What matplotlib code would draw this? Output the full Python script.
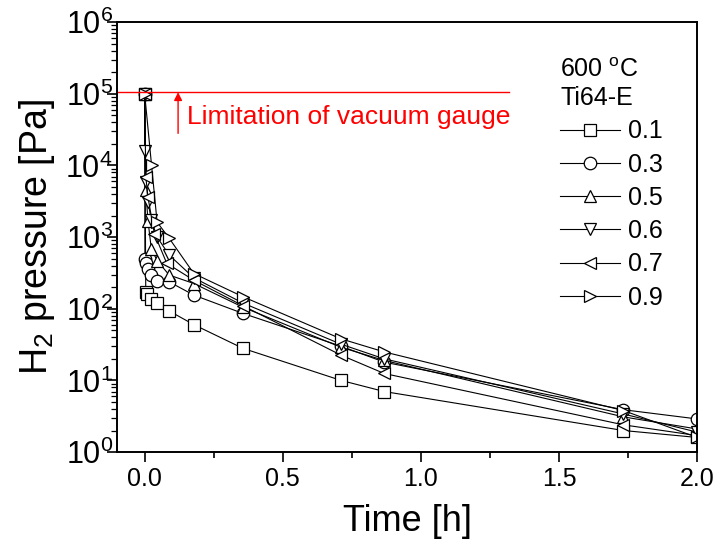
import matplotlib
matplotlib.use("Agg")
import matplotlib.pyplot as plt

plt.rcParams['font.family'] = ['Liberation Sans', 'DejaVu Sans']
plt.rcParams['mathtext.fontset'] = 'custom'
plt.rcParams['mathtext.rm'] = 'Liberation Sans'
plt.rcParams['mathtext.it'] = 'Liberation Sans:italic'
plt.rcParams['mathtext.default'] = 'regular'

# time [h] and H2 pressure [Pa] for each series
t_01 = [0.0, 0.004, 0.008, 0.024, 0.045, 0.089, 0.178, 0.356, 0.711, 0.867, 1.733, 2.0]
p_01 = [1.0e5, 172, 160, 139, 120, 93, 60, 28, 10, 7, 2.0, 1.6]

t_03 = [0.0, 0.001, 0.006, 0.012, 0.024, 0.046, 0.089, 0.178, 0.356, 0.711, 0.867, 1.733, 2.0]
p_03 = [1.0e5, 500, 430, 363, 295, 243, 237, 155, 86, 30, 18, 3.9, 2.9]

t_05 = [0.0, 0.004, 0.012, 0.024, 0.045, 0.089, 0.178, 0.356, 0.711, 0.867, 1.733, 2.0]
p_05 = [1.0e5, 4500, 1700, 690, 470, 295, 225, 105, 29, 19, 3.1, 2.1]

t_06 = [0.0, 0.002, 0.006, 0.012, 0.024, 0.045, 0.089, 0.178, 0.356, 0.711, 0.867, 1.733, 2.0]
p_06 = [1.0e5, 16000, 5900, 3100, 1740, 1000, 560, 270, 120, 32, 20, 3.4, 1.9]

t_07 = [0.0, 0.004, 0.012, 0.035, 0.08, 0.178, 0.356, 0.711, 0.867, 1.733, 2.0]
p_07 = [1.0e5, 7000, 3600, 1120, 430, 250, 110, 22.5, 12.5, 2.4, 1.7]

t_09 = [0.0, 0.025, 0.045, 0.089, 0.178, 0.356, 0.711, 0.867, 1.733, 2.0]
p_09 = [1.0e5, 10000, 1620, 960, 310, 147, 38, 25, 3.8, 1.6]

series = [
    ('0.1', 's', t_01, p_01),
    ('0.3', 'o', t_03, p_03),
    ('0.5', '^', t_05, p_05),
    ('0.6', 'v', t_06, p_06),
    ('0.7', '<', t_07, p_07),
    ('0.9', '>', t_09, p_09),
]

gauge_limit = 1.05e5

fig = plt.figure(figsize=(7.18, 5.52), dpi=100)
ax = fig.add_axes([0.163, 0.181, 0.808, 0.779])

for label, marker, t, p in series:
    ax.plot(t, p, '-', color='black', linewidth=0.8, marker=marker,
            markersize=9, markerfacecolor='white', markeredgecolor='black',
            markeredgewidth=0.9, label=label)

# vacuum gauge limitation
ax.plot([-0.1, 1.32], [gauge_limit, gauge_limit], color='red', linewidth=1.0)
ax.annotate('', xy=(0.121, gauge_limit), xytext=(0.121, 2.8e4),
            arrowprops=dict(arrowstyle='-|>', color='red', lw=1.0,
                            mutation_scale=12, shrinkA=0, shrinkB=0))
ax.text(0.155, 4.8e4, 'Limitation of vacuum gauge', color='red',
        fontsize=19, va='center', ha='left')

ax.set_yscale('log')
ax.set_xlim(-0.1, 2.0)
ax.set_ylim(1, 1e6)
ax.set_xticks([0.0, 0.5, 1.0, 1.5, 2.0])
ax.set_xticklabels(['0.0', '0.5', '1.0', '1.5', '2.0'])
ax.set_xticks([0.25, 0.75, 1.25, 1.75], minor=True)
yt = [10.0 ** k for k in range(7)]
ax.set_yticks(yt)
ax.set_yticklabels(['$10^{%d}$' % k for k in range(7)])

ax.tick_params(axis='x', which='major', labelsize=18, length=7, width=1.2, pad=4)
ax.tick_params(axis='x', which='minor', length=4, width=1.2)
ax.tick_params(axis='y', which='major', labelsize=22, length=7, width=1.2, pad=-4)
ax.tick_params(axis='y', which='minor', length=4, width=0.9)
for s in ax.spines.values():
    s.set_linewidth(1.4)

ax.set_xlabel('Time [h]', fontsize=26, labelpad=9)
ax.set_ylabel('H$_2$ pressure [Pa]', fontsize=27, labelpad=6)

leg = ax.legend(loc='upper left', bbox_to_anchor=(0.764, 0.916), frameon=False,
                fontsize=18, handlelength=2.4, handletextpad=0.3,
                labelspacing=0.37, borderpad=0, borderaxespad=0,
                title='600 $^{o}$C\nTi64-E', title_fontsize=18, alignment='left')

fig.savefig('out.png', dpi=100)
